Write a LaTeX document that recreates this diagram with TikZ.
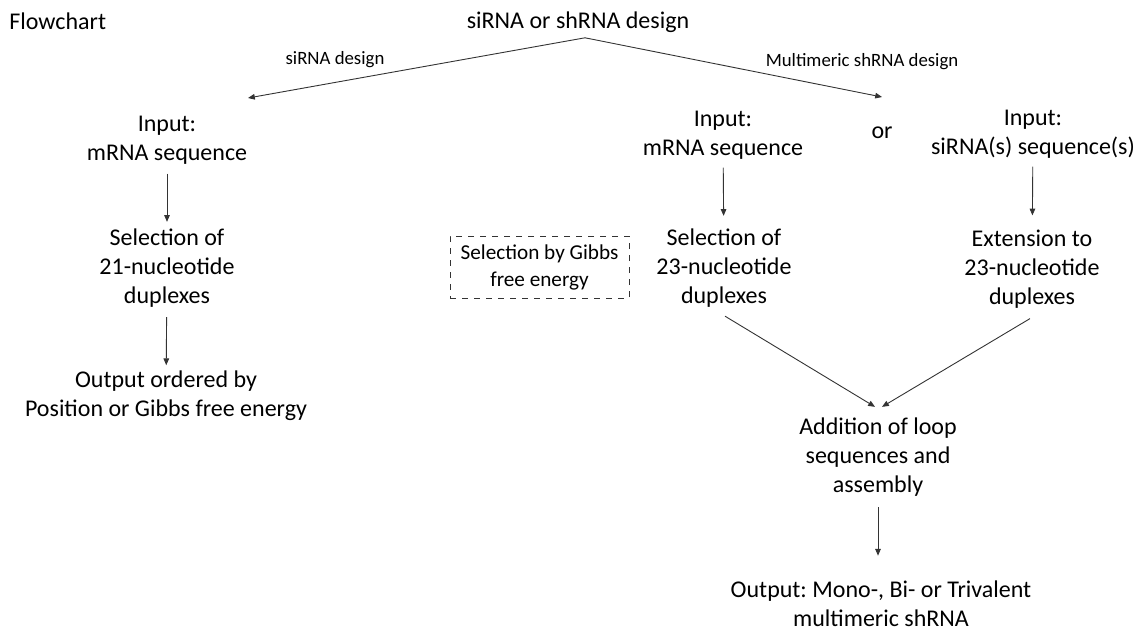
\documentclass[tikz,border=0pt]{standalone}
\usepackage{fontspec}
\setmainfont{Carlito}
\usetikzlibrary{arrows.meta, positioning}
\frenchspacing
\tikzset{
  txt/.style={align=center, font=\fontsize{12}{14.5}\selectfont, inner sep=0pt},
  lbl/.style={font=\fontsize{9.4}{11}\selectfont, inner sep=0pt},
  arr/.style={-{Triangle[length=3.4pt,width=2.8pt]}, line width=0.45pt, draw=black!80},
}

\begin{document}
\begin{tikzpicture}[x=0.5pt, y=-0.5pt]
   \useasboundingbox (0,0) rectangle (1139,632);

   % Heading and the two branches
   \node[txt, anchor=west] (flow) at (9,21) {Flowchart};
   \node[txt] (top) at (578,22) {siRNA or shRNA design};
   \coordinate (apex) at ([xshift=3.5pt,yshift=-2.5pt]top.south);
   \coordinate (sitip) at (248,98);
   \coordinate (shtip) at (882,97);
   \draw[arr] (apex) -- (sitip);
   \draw[arr] (apex) -- (shtip);
   \node[lbl] (silbl) at (335,60) {siRNA design};
   \node[lbl] (shlbl) at (862,62) {Multimeric shRNA design};

   % siRNA column
   \node[txt] (lin) at (167,140) {Input:\\mRNA sequence};
   \node[txt] (lsel) at (167,268.5) {Selection of\\21-nucleotide\\duplexes};
   \node[txt] (lout) at (166,395.5) {Output ordered by\\Position or Gibbs free energy};
   \draw[arr, shorten <=4.5pt, shorten >=3.5pt] (lin) -- (lsel);
   \draw[arr, shorten <=4.5pt, shorten >=2.5pt] (lsel) -- (lout);

   % Gibbs filter box
   \node[txt, draw=black!80, dashed, line width=0.45pt, font=\fontsize{10.6}{13.5}\selectfont,
         minimum width=89.5pt, minimum height=31pt] (gibbs) at (539.5,267) {Selection by Gibbs\\free energy};

   % shRNA columns
   \node[txt] (min) at (723,135) {Input:\\mRNA sequence};
   \node[txt] (msel) at (724,268.5) {Selection of\\23-nucleotide\\duplexes};
   \node[txt] (or) at (882,133) {or};
   \node[txt] (rin) at (1033,134) {Input:\\siRNA(s) sequence(s)};
   \node[txt] (rext) at (1032,269) {Extension to\\23-nucleotide\\duplexes};
   \draw[arr, shorten <=4pt, shorten >=6.5pt] (min) -- (msel);
   \draw[arr, shorten <=4pt, shorten >=7pt] (rin) -- (rext);

   % Assembly and output
   \node[txt] (add) at (878,457.5) {Addition of loop\\sequences and\\assembly};
   \node[txt] (out) at (881,604) {Output: Mono-, Bi- or Trivalent\\multimeric shRNA};
   \draw[arr] ([xshift=0.5pt,yshift=-4pt]msel.south) -- ([xshift=-1.5pt,yshift=5.5pt]add.north);
   \draw[arr] ([xshift=-1pt,yshift=-5pt]rext.south) -- ([xshift=2pt,yshift=5.5pt]add.north);
   \draw[arr, shorten <=5pt, shorten >=12.5pt] (add.south) -- (add.south |- out.north);

\end{tikzpicture}
\end{document}
